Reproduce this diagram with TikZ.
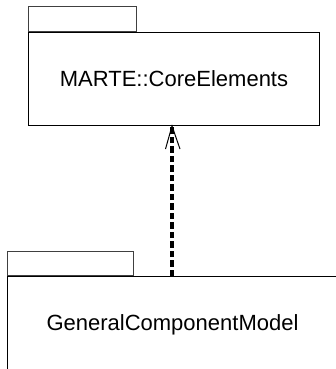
\documentclass[tikz,border=0pt]{standalone}
\usepackage{fontspec}
\setmainfont{Liberation Sans}
\usetikzlibrary{calc}
\tikzset{
  pkgbody/.style={draw=black, line width=1pt, fill=white, inner sep=0pt, anchor=north west},
  pkgtab/.style={draw=black!75, line width=0.8pt, fill=white, inner sep=0pt, anchor=south west},
  pkglabel/.style={font=\fontsize{22}{26}\selectfont, inner sep=0pt},
  depline/.style={line width=4pt, dash pattern=on 6.5pt off 3pt},
  barb/.style={line width=1pt}
}
\begin{document}
\begin{tikzpicture}[x=1pt,y=-1pt]
  \useasboundingbox (0,0) rectangle (335,369);
  % top package
  \node[pkgbody, minimum width=291pt, minimum height=93pt] (core) at (28,32) {};
  \node[pkgtab, minimum width=108pt, minimum height=25pt] (coretab) at (core.north west) {};
  \node[pkglabel] (corelabel) at (core.center) {MARTE::CoreElements};
  % bottom package (extends beyond the frame)
  \node[pkgbody, minimum width=330pt, minimum height=97pt] (gcm) at (7,276) {};
  \node[pkgtab, minimum width=126pt, minimum height=24pt] (gcmtab) at (gcm.north west) {};
  \node[pkglabel] (gcmlabel) at (gcm.center) {GeneralComponentModel};
  % dependency
  \coordinate (ax) at (172,0);
  \coordinate (tip) at (ax |- core.south);
  \draw[depline] (ax |- gcm.north) -- (tip);
  \draw[barb] ($(tip)+(-6.5,23)$) -- (tip) -- ($(tip)+(8,23)$);
\end{tikzpicture}
\end{document}
